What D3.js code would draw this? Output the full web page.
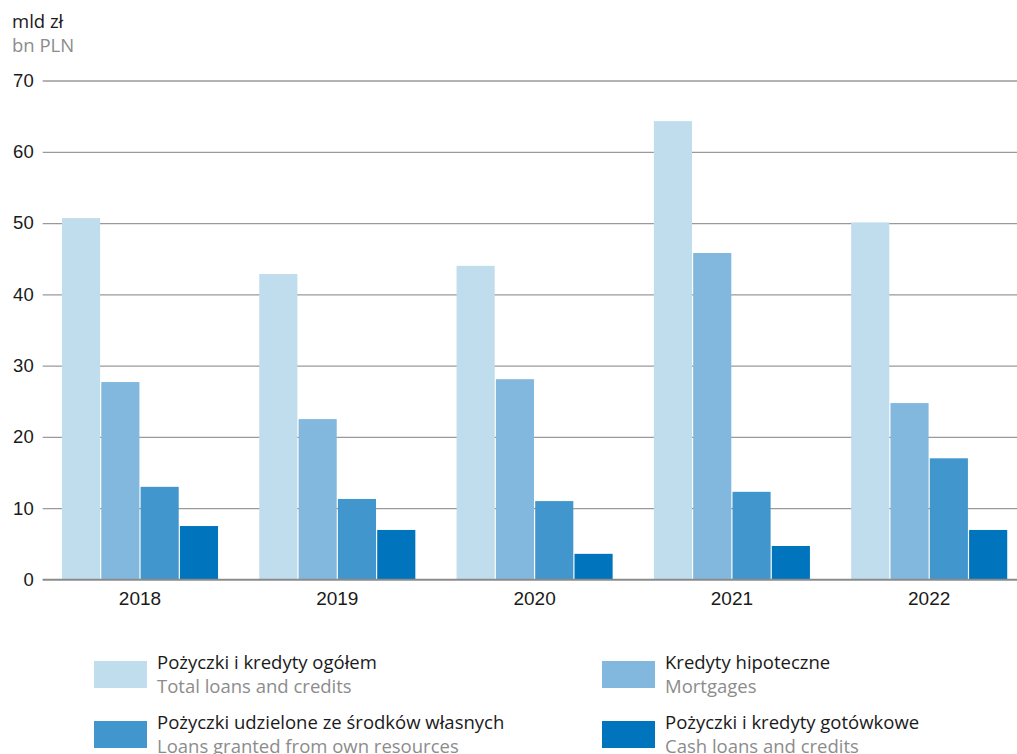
<!DOCTYPE html>
<html><head><meta charset="utf-8">
<script src="https://cdn.jsdelivr.net/npm/d3@7"></script>
<style>body{margin:0;background:#fff}svg{display:block;font-family:"Open Sans",sans-serif}</style>
</head><body><svg id="c" width="1017" height="754"></svg>
<script>
const years = ["2018","2019","2020","2021","2022"];
const seriesKeys = ["total","mortgages","own","cash"];
const total = [50.7, 42.85, 44.0, 64.3, 50.1];
const mortgages = [27.7, 22.5, 28.1, 45.8, 24.75];
const own = [13.0, 11.3, 11.0, 12.3, 17.0];
const cash = [7.5, 6.95, 3.6, 4.7, 6.95];
const yTicks = [0,10,20,30,40,50,60,70];
const colors = ["#c0ddee","#82b8de","#4197cd","#0074bd"];
const labelsPl = ["Pożyczki i kredyty ogółem","Kredyty hipoteczne","Pożyczki udzielone ze środków własnych","Pożyczki i kredyty gotówkowe"];
const labelsEn = ["Total loans and credits","Mortgages","Loans granted from own resources","Cash loans and credits"];

const values = {total, mortgages, own, cash};
const svg = d3.select("#c");
const y = d3.scaleLinear().domain([0,70]).range([579.5,80.5]);
const x = d3.scaleBand().domain(years).range([42.7,1026.5]).paddingInner(0.209).paddingOuter(0.0977);
const xi = d3.scaleBand().domain(seriesKeys).range([0,x.bandwidth()]).paddingInner(0.03);

// gridlines via axis
const gAxis = svg.append("g").attr("transform","translate(42.7,0)")
  .call(d3.axisLeft(y).tickValues(yTicks).tickSize(-(1017-42.7)).tickPadding(10).tickFormat(d3.format("d")));
gAxis.select(".domain").remove();
gAxis.selectAll(".tick line").attr("stroke","#9a9a9a").attr("stroke-width",1.3);
gAxis.selectAll(".tick text").attr("font-size",18.5).attr("fill","#1a1a1a").attr("x",-9);

// bars
const groups = svg.append("g").selectAll("g").data(years).join("g")
  .attr("transform",d=>`translate(${x(d)},0)`);
groups.selectAll("rect").data((d,i)=>seriesKeys.map((k,j)=>({k,j,v:values[k][i]}))).join("rect")
  .attr("x",d=>xi(d.k)).attr("width",xi.bandwidth())
  .attr("y",d=>y(d.v)).attr("height",d=>y(0)-y(d.v))
  .attr("fill",d=>colors[d.j]);

// zero line on top
svg.append("line").attr("x1",42.7).attr("x2",1017).attr("y1",y(0)).attr("y2",y(0))
  .attr("stroke","#8a8a8a").attr("stroke-width",1.6);

// x axis labels
const xa = svg.append("g").attr("transform",`translate(0,${y(0)})`)
  .call(d3.axisBottom(x).tickSize(0).tickPadding(12));
xa.select(".domain").remove();
xa.selectAll("text").attr("font-size",19).attr("fill","#1a1a1a").attr("dy","0.71em");

// unit labels
svg.append("text").attr("x",12).attr("y",28).attr("font-size",18.5).attr("fill","#1a1a1a").text("mld zł");
svg.append("text").attr("x",12).attr("y",52).attr("font-size",18.5).attr("fill","#8c8c8c").text("bn PLN");

// legend
const legPos = [[94,661],[602,661],[94,721],[602,721]];
const leg = svg.append("g").selectAll("g").data(seriesKeys).join("g")
  .attr("transform",(d,i)=>`translate(${legPos[i][0]},${legPos[i][1]})`);
leg.append("rect").attr("width",53).attr("height",27).attr("fill",(d,i)=>colors[i]);
leg.append("text").attr("x",63).attr("y",8).attr("font-size",18.5).attr("fill","#1a1a1a").text((d,i)=>labelsPl[i]);
leg.append("text").attr("x",63).attr("y",31.5).attr("font-size",18.5).attr("fill","#8c8c8c").text((d,i)=>labelsEn[i]);
</script></body></html>
